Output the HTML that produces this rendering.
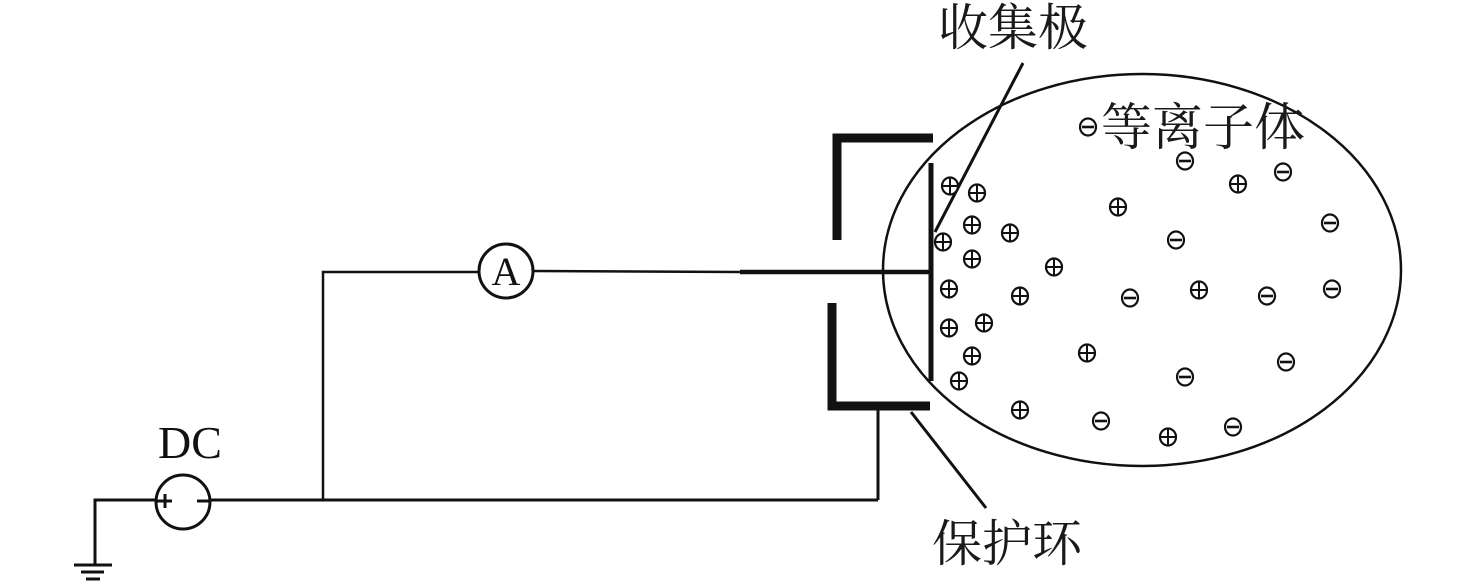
<!DOCTYPE html>
<html><head><meta charset="utf-8"><style>
html,body{margin:0;padding:0;background:#fff;}
svg{display:block;}
.cj{font-family:"Liberation Serif","Noto Serif CJK SC",serif;fill:#1a1a1a;}
</style></head><body>
<svg width="1476" height="584" viewBox="0 0 1476 584" xmlns="http://www.w3.org/2000/svg">
<defs>
<g id="p"><ellipse cx="0" cy="0" rx="8" ry="8.5" fill="#fff" stroke="#111" stroke-width="2.2"/><line x1="-7" y1="0" x2="7" y2="0" stroke="#111" stroke-width="2"/><line x1="0" y1="-7.5" x2="0" y2="7.5" stroke="#111" stroke-width="2"/></g>
<g id="m"><ellipse cx="0" cy="0" rx="8" ry="8.5" fill="#fff" stroke="#111" stroke-width="2.2"/><line x1="-6" y1="0" x2="6" y2="0" stroke="#111" stroke-width="2.6"/></g>
</defs>
<g stroke="#111" fill="none">
<ellipse cx="1142" cy="270" rx="259" ry="196" stroke-width="2.5"/>
<!-- wires -->
<polyline points="95,565 95,500 157,500" stroke-width="3"/>
<line x1="210" y1="500" x2="878" y2="500" stroke-width="3"/>
<line x1="878" y1="500" x2="878" y2="408" stroke-width="3"/>
<polyline points="323,500 323,272 478,272" stroke-width="2.5"/>
<line x1="533" y1="271" x2="740" y2="272" stroke-width="2.5"/>
<line x1="740" y1="272" x2="933" y2="272" stroke-width="4.5"/>
<line x1="931" y1="163" x2="931" y2="381" stroke-width="5"/>
<!-- guard ring -->
<polyline points="837,240 837,138 933,138" stroke-width="9"/>
<polyline points="832,303 832,406 930,406" stroke-width="9"/>
<!-- leaders -->
<line x1="1023" y1="63" x2="935" y2="232" stroke-width="3"/>
<line x1="911" y1="412" x2="986" y2="508" stroke-width="3"/>
<!-- ammeter -->
<circle cx="506" cy="271" r="27" fill="#fff" stroke-width="3"/>
<!-- DC -->
<circle cx="183" cy="502" r="27" fill="#fff" stroke-width="3"/>
<line x1="157" y1="501" x2="172" y2="501" stroke-width="3"/>
<line x1="165" y1="494" x2="165" y2="508" stroke-width="3"/>
<line x1="197" y1="501" x2="210" y2="501" stroke-width="3"/>
<!-- ground -->
<line x1="74" y1="565" x2="112" y2="565" stroke-width="3"/>
<line x1="81" y1="572" x2="104" y2="572" stroke-width="3"/>
<line x1="86" y1="579" x2="100" y2="579" stroke-width="3"/>
</g>
<text x="506" y="285" text-anchor="middle" font-family="Liberation Serif,serif" font-size="40" fill="#111">A</text>
<text x="190" y="458" text-anchor="middle" font-family="Liberation Serif,serif" font-size="46" fill="#111">DC</text>
<text x="938" y="45" class="cj" font-size="50">收集极</text>
<text x="1101" y="145" class="cj" font-size="51">等离子体</text>
<text x="932" y="561" class="cj" font-size="50">保护环</text>
<g>
<use href="#p" x="950" y="186"/><use href="#p" x="977" y="193"/><use href="#p" x="972" y="225"/><use href="#p" x="1010" y="233"/>
<use href="#p" x="943" y="242"/><use href="#p" x="972" y="259"/><use href="#p" x="1054" y="267"/><use href="#p" x="949" y="289"/>
<use href="#p" x="1020" y="296"/><use href="#p" x="949" y="328"/><use href="#p" x="984" y="323"/><use href="#p" x="972" y="356"/>
<use href="#p" x="959" y="381"/><use href="#p" x="1020" y="410"/><use href="#p" x="1118" y="207"/><use href="#p" x="1238" y="184"/>
<use href="#p" x="1199" y="290"/><use href="#p" x="1087" y="353"/><use href="#p" x="1168" y="437"/>
<use href="#m" x="1088" y="127"/><use href="#m" x="1185" y="161"/><use href="#m" x="1176" y="240"/><use href="#m" x="1130" y="298"/>
<use href="#m" x="1185" y="377"/><use href="#m" x="1101" y="421"/><use href="#m" x="1233" y="427"/><use href="#m" x="1283" y="172"/>
<use href="#m" x="1330" y="223"/><use href="#m" x="1267" y="296"/><use href="#m" x="1332" y="289"/><use href="#m" x="1286" y="362"/>
</g>
</svg>
</body></html>
